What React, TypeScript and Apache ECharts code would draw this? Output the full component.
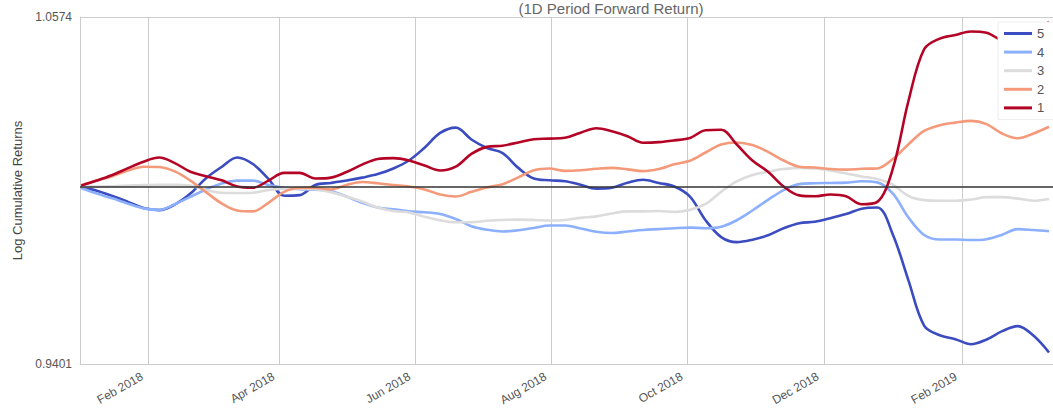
import React, { useEffect, useRef } from "react";
import * as echarts from "echarts";

// Weekly observation dates
const dates = [
  "2018-01-02", "2018-01-09", "2018-01-16", "2018-01-23", "2018-01-30",
  "2018-02-06", "2018-02-13", "2018-02-20", "2018-02-27", "2018-03-06",
  "2018-03-13", "2018-03-20", "2018-03-27", "2018-04-03", "2018-04-10",
  "2018-04-17", "2018-04-24", "2018-05-01", "2018-05-08", "2018-05-15",
  "2018-05-22", "2018-05-29", "2018-06-05", "2018-06-12", "2018-06-19",
  "2018-06-26", "2018-07-03", "2018-07-10", "2018-07-17", "2018-07-24",
  "2018-07-31", "2018-08-07", "2018-08-14", "2018-08-21", "2018-08-28",
  "2018-09-04", "2018-09-11", "2018-09-18", "2018-09-25", "2018-10-02",
  "2018-10-09", "2018-10-16", "2018-10-23", "2018-10-30", "2018-11-06",
  "2018-11-13", "2018-11-20", "2018-11-27", "2018-12-04", "2018-12-11",
  "2018-12-18", "2018-12-25", "2019-01-01", "2019-01-08", "2019-01-15",
  "2019-01-22", "2019-01-29", "2019-02-05", "2019-02-12", "2019-02-19",
  "2019-02-26", "2019-03-05", "2019-03-12",
];

// Cumulative returns per quantile
const quantile5 = [
  0.9998, 0.9987, 0.9969, 0.9949, 0.9928, 0.9921, 0.994, 0.9977, 1.0029, 1.0067,
  1.0099, 1.0077, 1.0027, 0.997, 0.9972, 1.0006, 1.0013, 1.0021, 1.0031, 1.0043,
  1.0062, 1.0089, 1.0132, 1.0182, 1.02, 1.016, 1.0131, 1.0114, 1.0064, 1.0028,
  1.0022, 1.0019, 1.0007, 0.9994, 0.9997, 1.0014, 1.0024, 1.0013, 1.0001, 0.9967,
  0.9887, 0.983, 0.9813, 0.9821, 0.9836, 0.986, 0.9877, 0.9882, 0.9894, 0.9908,
  0.9926, 0.993, 0.9838, 0.9683, 0.9531, 0.9498, 0.9485, 0.9468, 0.9484, 0.9512,
  0.9529, 0.9497, 0.944,
];
const quantile4 = [
  0.9996, 0.9977, 0.9961, 0.9943, 0.9927, 0.9922, 0.9941, 0.9966, 0.9991, 1.0011,
  1.0021, 1.0021, 1.0006, 0.9997, 0.9992, 0.999, 0.9986, 0.9967, 0.9946, 0.993,
  0.9924, 0.9917, 0.9914, 0.9908, 0.9891, 0.9867, 0.9855, 0.9849, 0.9853, 0.9861,
  0.9869, 0.9869, 0.9859, 0.9848, 0.9844, 0.9849, 0.9854, 0.9857, 0.986, 0.9862,
  0.986, 0.9865, 0.9887, 0.992, 0.9956, 0.9989, 1.0009, 1.0012, 1.0013, 1.0014,
  1.0019, 1.0015, 0.9977, 0.9896, 0.9837, 0.9822, 0.9822, 0.982, 0.9823, 0.9838,
  0.9857, 0.9854, 0.985,
];
const quantile3 = [
  1.0001, 1.0001, 1.0002, 1.0004, 1.0006, 1.0007, 1.0007, 1.0004, 0.9989, 0.998,
  0.9979, 0.998, 0.9989, 0.9994, 0.9994, 0.9992, 0.9982, 0.9967, 0.995, 0.993,
  0.9918, 0.9913, 0.9899, 0.9887, 0.988, 0.988, 0.9885, 0.9888, 0.9889, 0.9888,
  0.9886, 0.9888, 0.9895, 0.99, 0.991, 0.9917, 0.9917, 0.9918, 0.9915, 0.9922,
  0.9942, 0.9983, 1.0018, 1.004, 1.0051, 1.006, 1.0064, 1.0062, 1.0055, 1.0045,
  1.0035, 1.0026, 1.0007, 0.9969, 0.9955, 0.9953, 0.9953, 0.9957, 0.9965, 0.9965,
  0.996, 0.9953, 0.9959,
];
const quantile2 = [
  1.0005, 1.0021, 1.0036, 1.0055, 1.0068, 1.0067, 1.0052, 1.0021, 0.9982, 0.9944,
  0.992, 0.9917, 0.9946, 0.9983, 0.9996, 0.9996, 0.9991, 1.0006, 1.0016, 1.0012,
  1.0006, 1.0001, 0.9991, 0.9974, 0.9967, 0.9983, 0.9998, 1.0009, 1.0032, 1.0056,
  1.0062, 1.0054, 1.0056, 1.0061, 1.0064, 1.0059, 1.0053, 1.006, 1.0076, 1.0088,
  1.0116, 1.0143, 1.015, 1.0141, 1.0118, 1.0089, 1.0068, 1.0065, 1.006, 1.0058,
  1.0061, 1.0062, 1.0094, 1.0144, 1.0189, 1.0208, 1.0217, 1.0223, 1.0212, 1.018,
  1.0164, 1.018, 1.0203,
];
const quantile1 = [
  1.0004, 1.0021, 1.004, 1.0063, 1.0085, 1.0099, 1.008, 1.0051, 1.0036, 1.0022,
  1.0001, 0.9997, 1.0021, 1.0047, 1.0047, 1.0028, 1.0031, 1.005, 1.0075, 1.0094,
  1.0097, 1.0089, 1.0072, 1.0055, 1.0068, 1.0111, 1.0135, 1.0139, 1.015, 1.0161,
  1.0163, 1.0166, 1.0183, 1.0198, 1.0188, 1.0171, 1.0149, 1.0151, 1.0157, 1.0165,
  1.0191, 1.0193, 1.0143, 1.0089, 1.0051, 1.0001, 0.9971, 0.9968, 0.9974, 0.9968,
  0.9941, 0.9949, 1.0062, 1.0291, 1.0465, 1.0501, 1.0513, 1.0525, 1.0521, 1.0494,
  1.0487, 1.0514, 1.0558,
];

const seriesNames = ["5", "4", "3", "2", "1"];
const seriesValues = [quantile5, quantile4, quantile3, quantile2, quantile1];
const seriesColors = ["#3b4cc0", "#8db0fe", "#dddcdc", "#f49a7b", "#b40426"];

// Axis ticks
const monthTicks = [
  "2018-02-01", "2018-04-01", "2018-06-01", "2018-08-01",
  "2018-10-01", "2018-12-01", "2019-02-01",
];
const monthTickLabels = [
  "Feb 2018", "Apr 2018", "Jun 2018", "Aug 2018",
  "Oct 2018", "Dec 2018", "Feb 2019",
];
const yTicks = [0.9401, 1.0574];
const baselineValue = 1;

const toUTC = (s: string) => {
  const [y, m, d] = s.split("-").map(Number);
  return Date.UTC(y, m - 1, d);
};

const FONT = "'Liberation Sans', Arial, sans-serif";

export default function App() {
  const ref = useRef<HTMLDivElement>(null);

  useEffect(() => {
    if (!ref.current) return;
    const chart = echarts.init(ref.current, undefined, { renderer: "svg" });

    const tickTs = monthTicks.map(toUTC);
    const labelMap = new Map<number, string>();
    tickTs.forEach((t, i) => labelMap.set(t, monthTickLabels[i]));

    const series = seriesNames.map((name, si) => {
      const s: any = {
        name,
        type: "line",
        symbol: "none",
        smooth: 0.35,
        data: dates.map((d, i) => [toUTC(d), seriesValues[si][i]]),
        lineStyle: { color: seriesColors[si], width: 2.6 },
        itemStyle: { color: seriesColors[si] },
        emphasis: { disabled: true },
      };
      if (name === "1") {
        s.markLine = {
          silent: true,
          symbol: ["none", "none"],
          label: { show: false },
          lineStyle: { color: "#333", width: 1.5, type: "solid" },
          data: [{ yAxis: baselineValue }],
        };
      }
      return s;
    });

    chart.setOption({
      animation: false,
      backgroundColor: "#fff",
      textStyle: { fontFamily: FONT },
      grid: {
        left: 80,
        right: 0,
        top: 17,
        bottom: 48,
        containLabel: false,
        outerBoundsMode: "none",
      },
      graphic: [
        {
          type: "text",
          x: 611,
          y: 8.5,
          style: {
            text: "(1D Period Forward Return)",
            fill: "#666",
            font: `15px ${FONT}`,
            align: "center",
            verticalAlign: "middle",
          },
        },
      ],
      legend: {
        orient: "vertical",
        left: 998,
        top: 22,
        backgroundColor: "#fff",
        borderColor: "#eee",
        borderWidth: 1,
        padding: [5, 14, 5, 6],
        itemWidth: 28,
        itemHeight: 3,
        itemGap: 5.6,
        icon: "rect",
        textStyle: { color: "#555", fontSize: 13, fontFamily: FONT },
        data: seriesNames,
      },
      xAxis: {
        type: "value",
        min: Date.UTC(2018, 0, 1, 12),
        max: Date.UTC(2019, 2, 13, 19),
        axisLine: { show: true, lineStyle: { color: "#ccc", width: 1 } },
        axisTick: { show: false, customValues: tickTs },
        axisLabel: {
          customValues: tickTs,
          rotate: 30,
          margin: 8,
          padding: [0, 7, 0, 0],
          color: "#555",
          fontSize: 12,
          fontFamily: FONT,
          hideOverlap: false,
          formatter: (v: number) => labelMap.get(v) ?? "",
        },
        splitLine: { show: true, lineStyle: { color: "#ccc", width: 1 } },
      },
      yAxis: {
        type: "value",
        min: yTicks[0],
        max: yTicks[1],
        name: "Log Cumulative Returns",
        nameLocation: "middle",
        nameGap: 56,
        nameTextStyle: { color: "#444", fontSize: 13, fontFamily: FONT },
        axisLine: { show: true, lineStyle: { color: "#ccc", width: 1 } },
        axisTick: { show: false, customValues: yTicks },
        axisLabel: {
          customValues: yTicks,
          color: "#555",
          fontSize: 12,
          fontFamily: FONT,
          formatter: (v: number) => v.toFixed(4),
        },
        splitLine: { show: true, lineStyle: { color: "#ccc", width: 1 } },
      },
      series,
    });

    return () => chart.dispose();
  }, []);

  return (
    <div
      ref={ref}
      style={{ position: "absolute", left: 0, top: 0, width: 1053, height: 412 }}
    />
  );
}
